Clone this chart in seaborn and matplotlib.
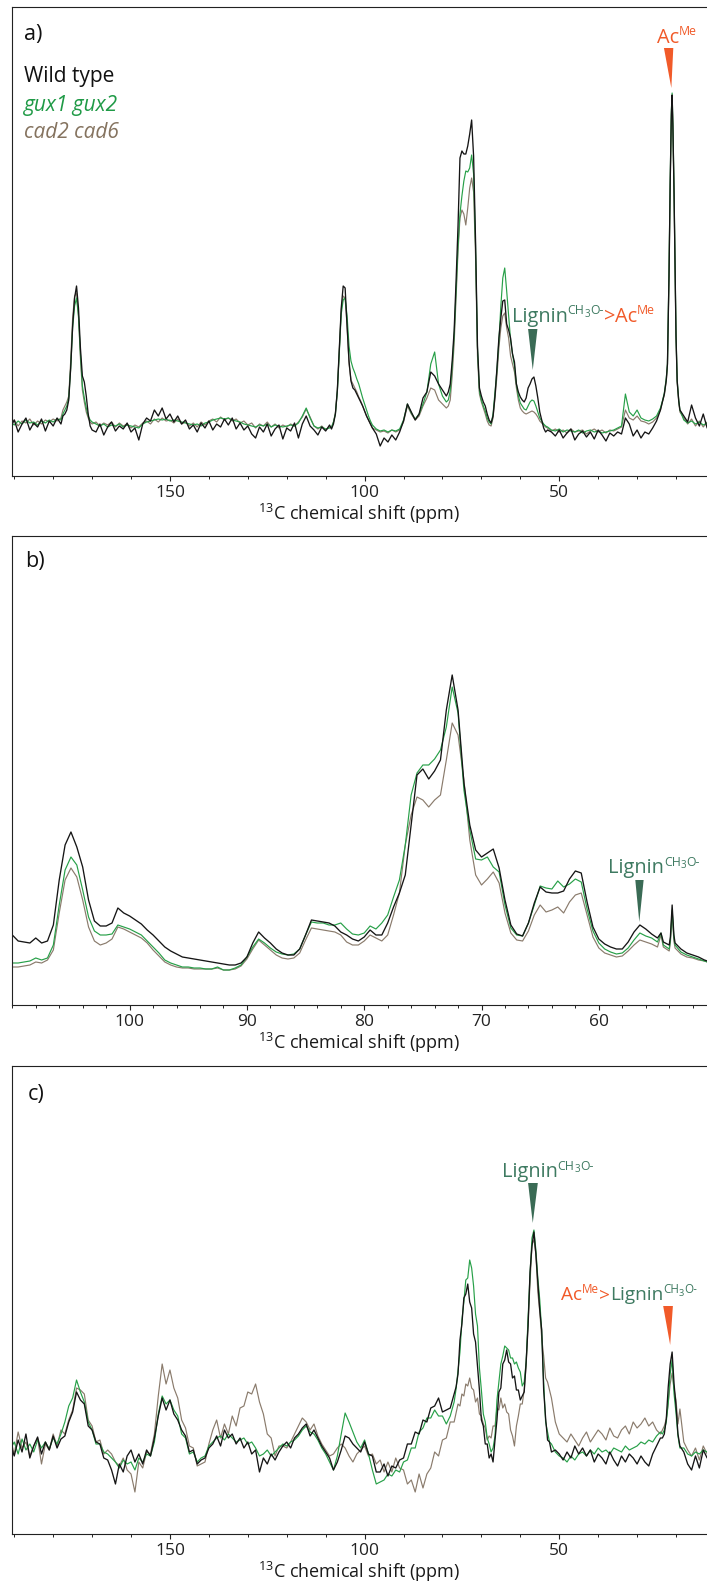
import numpy as np
import matplotlib
matplotlib.use("Agg")
import matplotlib.pyplot as plt
import seaborn as sns
from matplotlib.ticker import FixedLocator, MultipleLocator

sns.set_theme(style="white")
FONT = ["Open Sans", "DejaVu Sans"]
plt.rcParams["font.family"] = FONT
plt.rcParams["mathtext.fontset"] = "custom"
plt.rcParams["mathtext.rm"] = "Open Sans"
plt.rcParams["mathtext.it"] = "Open Sans:italic"


def seg(a, b, step):
    return [round(float(v), 2) for v in np.arange(a, b - step / 2, -step)]

# ---------------- data: panel a ----------------
ppm_a = (seg(191, 178, 1) + seg(177.5, 170, 0.5) + seg(169, 109, 1) + seg(108.5, 98, 0.5)
         + seg(97, 79, 1) + seg(78.5, 53, 0.5) + seg(52, 24, 1)
         + [23.5, 23, 22.5, 22.2, 21.8, 21.5, 21.2, 21.0, 20.8, 20.5, 20.2, 20.0, 19.7, 19.3, 19.0]
         + seg(18, 8, 1))
wt_a = ([48, 56, 44, 52, 58, 46, 53, 49, 57, 45, 55, 50, 58, 52]
        + [60, 62, 66, 76, 108, 150, 178, 190, 168, 128, 100, 94, 80, 62, 50, 46]
        + [44, 52, 41, 49, 54, 45, 50, 47, 53, 44, 48, 36, 52, 58, 55, 66, 60, 68, 57, 62,
           54, 60, 52, 56, 47, 51, 44, 53, 48, 55, 46, 52, 49, 57, 51, 58, 47, 53, 46, 50,
           42, 38, 49, 44, 52, 40, 47, 51, 37, 48, 45, 53, 38, 52, 60, 50, 46, 41, 49, 45, 51]
        + [47, 52, 62, 86, 126, 168, 190, 188, 150, 115, 95, 88, 86, 82, 78, 74, 70, 65, 60, 56, 52, 48]
        + [42, 30, 38, 34, 41, 36, 44, 55, 72, 64, 56, 62, 78, 84, 104, 100, 92, 86, 80]
        + [84, 92, 115, 145, 195, 250, 318, 325, 322, 322, 330, 342, 356, 320, 236, 130, 88, 80, 74, 70,
           62, 56, 53, 60, 80, 108, 138, 158, 175, 176, 152, 146, 138, 122, 114, 92, 84, 79, 76, 74,
           78, 88, 92, 97, 99, 90, 78, 64, 56, 48, 44, 46]
        + [44, 40, 46, 38, 43, 47, 36, 42, 45, 39, 44, 37, 46, 41, 35, 43, 40, 44, 42, 58,
           52, 40, 46, 38, 44, 42, 48, 55, 66]
        + [74, 82, 96, 112, 200, 292, 362, 381, 350, 282, 200, 140, 95, 75, 66]
        + [60, 54, 71, 58, 50, 62, 48, 56, 46, 54, 50])
gux_a = ([54, 51, 55, 52, 56, 53, 54, 51, 55, 53, 56, 54, 57, 56]
         + [62, 66, 70, 78, 108, 148, 170, 178, 160, 122, 90, 78, 68, 60, 56, 54]
         + [52, 50, 52, 49, 51, 50, 52, 49, 51, 50, 49, 48, 52, 54, 55, 56, 57, 56, 57, 55,
            56, 55, 54, 53, 52, 51, 52, 50, 53, 54, 56, 57, 58, 57, 58, 56, 55, 54, 52, 51,
            50, 49, 51, 50, 52, 49, 51, 50, 49, 50, 51, 50, 53, 60, 68, 58, 50, 48, 49, 47, 48]
         + [49, 54, 62, 84, 122, 162, 176, 178, 160, 130, 115, 108, 103, 97, 92, 85, 78, 72, 66, 60, 55, 51]
         + [47, 45, 46, 44, 46, 45, 47, 56, 72, 63, 57, 62, 72, 84, 112, 124, 92, 80, 74]
         + [76, 85, 110, 140, 185, 230, 262, 280, 295, 305, 304, 308, 321, 302, 230, 128, 85, 76, 70, 65,
            58, 54, 52, 62, 84, 106, 135, 170, 198, 208, 185, 160, 136, 122, 110, 92, 80, 73, 70, 67,
            66, 70, 74, 76, 75, 70, 64, 58, 55, 52, 50, 49]
         + [46, 45, 47, 44, 46, 45, 44, 46, 43, 45, 46, 44, 45, 43, 44, 45, 46, 48, 50, 82,
            64, 60, 66, 58, 56, 55, 57, 60, 68]
         + [75, 83, 98, 112, 205, 295, 365, 383, 352, 285, 202, 142, 96, 76, 66]
         + [56, 53, 55, 52, 54, 51, 53, 50, 52, 50, 51])
cad_a = ([52, 56, 50, 55, 53, 57, 51, 55, 52, 56, 54, 57, 55, 58]
         + [66, 70, 74, 80, 115, 158, 180, 183, 160, 118, 86, 74, 64, 58, 54, 52]
         + [54, 50, 53, 51, 54, 49, 53, 50, 52, 48, 51, 49, 53, 55, 52, 57, 54, 58, 55, 56,
            53, 57, 52, 54, 50, 53, 49, 54, 51, 55, 57, 54, 59, 56, 58, 55, 57, 53, 55, 51,
            53, 48, 52, 50, 54, 49, 52, 48, 51, 49, 52, 50, 54, 59, 67, 59, 50, 47, 50, 46, 49]
         + [48, 54, 63, 86, 125, 166, 180, 178, 150, 112, 96, 92, 88, 84, 79, 75, 70, 65, 60, 56, 52, 48]
         + [46, 44, 45, 43, 46, 44, 46, 54, 70, 62, 56, 60, 70, 78, 88, 86, 76, 72, 68]
         + [70, 76, 100, 132, 178, 225, 258, 266, 262, 251, 268, 288, 298, 284, 220, 120, 82, 74, 68, 62,
            55, 51, 50, 58, 78, 100, 128, 148, 160, 163, 148, 138, 120, 112, 104, 88, 76, 68, 65, 63,
            62, 63, 64, 65, 64, 62, 59, 55, 53, 51, 49, 48]
         + [45, 47, 44, 46, 43, 47, 44, 45, 46, 42, 45, 47, 44, 46, 43, 46, 45, 47, 49, 66,
            58, 56, 60, 55, 54, 52, 54, 58, 66]
         + [74, 81, 95, 110, 198, 288, 356, 376, 346, 278, 196, 138, 93, 74, 64]
         + [58, 52, 57, 50, 55, 49, 54, 51, 53, 48, 52])

# ---------------- data: panel b ----------------
ppm_b = seg(110, 55, 0.5) + [54.7, 54.5, 54, 53.9, 53.75, 53.6, 53.5, 53, 52.5, 52, 51.5, 51, 50.5, 50, 49.5]
wt_b = [70, 64, 63, 62, 67, 62, 64, 80, 125, 160,
        173, 158, 138, 105, 84, 79, 79, 82, 97, 92,
        89, 85, 81, 75, 70, 64, 58, 54, 51, 48,
        47, 46, 45, 44, 43, 42, 41, 40, 40, 42,
        48, 62, 73, 67, 62, 56, 52, 50, 50, 56,
        70, 85, 84, 83, 82, 79, 73, 70, 66, 64,
        68, 75, 70, 70, 82, 98, 112, 130, 180, 230,
        236, 226, 234, 245, 295, 330, 295, 222, 180, 155,
        148, 152, 156, 137, 105, 80, 71, 69, 82, 102,
        118, 113, 112, 112, 114, 126, 134, 132, 103, 78,
        66, 61, 58, 56, 56, 63, 73, 80, 76, 71,
        67] + [72, 63, 60, 68, 100, 70, 62, 56, 52, 50, 48, 45, 43, 42, 41]
gux_b = [42, 42, 43, 44, 47, 45, 47, 60, 100, 135,
         148, 140, 115, 88, 74, 70, 70, 71, 80, 78,
         76, 73, 70, 64, 58, 52, 45, 42, 40, 38,
         38, 37, 37, 36, 36, 38, 35, 35, 37, 40,
         48, 58, 66, 62, 57, 53, 51, 50, 51, 56,
         70, 83, 82, 82, 80, 80, 82, 76, 71, 70,
         72, 79, 76, 82, 90, 108, 125, 160, 210, 232,
         240, 240, 246, 255, 278, 318, 292, 215, 175, 146,
         145, 148, 138, 133, 100, 77, 70, 69, 82, 100,
         119, 117, 116, 124, 118, 121, 126, 123, 96, 74,
         62, 56, 53, 51, 52, 57, 65, 72, 69, 67,
         63] + [72, 60, 56, 65, 95, 67, 60, 53, 50, 48, 46, 44, 42, 41, 40]
cad_b = [38, 38, 39, 40, 43, 42, 45, 55, 92, 125,
         137, 128, 105, 78, 64, 60, 62, 66, 78, 76,
         73, 70, 67, 62, 55, 49, 43, 40, 38, 37,
         37, 36, 36, 36, 36, 37, 35, 35, 36, 39,
         46, 56, 65, 60, 55, 50, 47, 46, 47, 52,
         65, 77, 76, 75, 74, 73, 70, 63, 60, 60,
         64, 70, 67, 64, 70, 90, 112, 160, 190, 208,
         205, 198, 205, 210, 245, 282, 270, 225, 165, 130,
         120, 126, 133, 122, 92, 72, 65, 64, 74, 90,
         100, 93, 95, 98, 92, 103, 110, 112, 90, 68,
         57, 52, 50, 48, 49, 54, 60, 65, 63, 61,
         58] + [70, 58, 54, 62, 93, 64, 57, 51, 48, 47, 45, 44, 42, 40, 39]

# ---------------- data: panel c ----------------
ppm_c = (seg(191, 178, 1) + seg(177, 166, 1) + seg(165, 153, 1) + seg(152, 140, 1)
         + seg(139, 119, 1) + seg(118, 101, 1) + seg(100, 77, 1) + seg(76.5, 52, 0.5)
         + seg(51, 24, 1) + seg(23.5, 19, 0.5) + seg(18, 8, 1))
wt_c = ([90, 78, 94, 82, 100, 76, 88, 97, 80, 92, 84, 98, 86, 95]
        + [98, 112, 122, 142, 134, 130, 108, 104, 92, 90, 76, 74]
        + [64, 50, 70, 62, 78, 84, 72, 80, 70, 84, 78, 96, 118]
        + [136, 124, 134, 120, 114, 104, 98, 82, 84, 70, 74, 76, 86]
        + [90, 98, 88, 104, 96, 100, 90, 96, 86, 92, 80, 84, 62, 76, 70, 80, 74, 82, 88, 92, 86]
        + [96, 100, 106, 110, 98, 104, 96, 88, 82, 76, 64, 72, 84, 98, 96, 90, 86, 82]
        + [92, 80, 78, 62, 62, 70, 58, 68, 66, 74, 76, 90, 90, 102, 100, 114, 112, 126, 128, 136,
           122, 124, 126, 140]
        + [147, 160, 194, 210, 236, 240, 250, 232, 226, 200, 192, 168, 144, 114, 108, 90, 90, 76, 80, 72,
           94, 114, 142, 146, 170, 174, 184, 172, 170, 156, 158, 144, 144, 134, 138, 142, 172, 208, 262, 288,
           302, 280, 252, 224, 204, 144, 116, 94, 92, 82]
        + [84, 80, 74, 82, 76, 88, 80, 86, 78, 84, 72, 80, 76, 70, 82, 74, 68, 78, 72, 80,
           76, 70, 78, 72, 68, 80, 88, 96]
        + [96, 100, 115, 147, 170, 182, 150, 128, 100, 88]
        + [82, 70, 64, 78, 66, 84, 76, 80, 72, 78, 76])
gux_c = ([85, 92, 80, 95, 84, 90, 82, 94, 86, 92, 85, 96, 90, 100]
         + [112, 128, 136, 154, 142, 132, 112, 104, 90, 90, 82, 80]
         + [76, 72, 66, 74, 70, 72, 64, 76, 72, 80, 78, 92, 120]
         + [138, 130, 134, 124, 118, 100, 96, 80, 82, 72, 76, 78, 88]
         + [92, 96, 98, 94, 100, 96, 92, 94, 96, 90, 92, 86, 78, 80, 84, 78, 82, 86, 90, 88, 92]
         + [94, 98, 104, 108, 102, 100, 94, 86, 80, 72, 64, 78, 100, 121, 112, 102, 92, 86]
         + [94, 80, 64, 50, 52, 54, 60, 58, 64, 62, 72, 74, 86, 86, 102, 106, 116, 116, 124, 118,
            118, 110, 118, 132]
         + [145, 164, 182, 214, 232, 254, 256, 274, 266, 248, 220, 208, 166, 144, 120, 112, 96, 90, 82, 86,
            98, 134, 152, 170, 178, 188, 186, 184, 176, 176, 170, 172, 166, 162, 148, 152, 172, 216, 260, 296,
            304, 284, 256, 234, 202, 152, 112, 102, 92, 90]
         + [82, 78, 76, 72, 78, 74, 80, 82, 78, 84, 80, 86, 82, 84, 80, 86, 84, 82, 88, 84,
            86, 88, 92, 90, 94, 92, 98, 102]
         + [100, 104, 112, 131, 160, 174, 140, 121, 98, 86]
         + [86, 80, 78, 82, 80, 84, 82, 78, 80, 82, 80])
cad_c = ([95, 80, 102, 86, 92, 78, 88, 96, 70, 90, 84, 100, 88, 104]
         + [100, 114, 124, 146, 144, 140, 114, 108, 92, 94, 80, 84]
         + [80, 72, 68, 76, 64, 60, 42, 72, 66, 82, 80, 100, 138]
         + [170, 150, 164, 146, 136, 114, 106, 88, 86, 68, 70, 72, 90]
         + [104, 114, 96, 110, 100, 118, 108, 126, 128, 142, 140, 150, 132, 120, 100, 96, 78, 88, 88, 86, 92]
         + [100, 108, 116, 112, 104, 110, 98, 90, 84, 78, 80, 86, 90, 86, 78, 72, 80, 84]
         + [88, 78, 80, 70, 74, 62, 72, 62, 76, 66, 64, 50, 54, 42, 60, 46, 60, 66, 82, 78,
            94, 96, 112, 112]
         + [121, 130, 128, 140, 138, 150, 148, 156, 146, 144, 132, 136, 120, 118, 110, 106, 94, 98, 96, 108,
            108, 126, 124, 136, 126, 130, 122, 120, 104, 98, 88, 108, 118, 130, 130, 144, 168, 212, 252, 290,
            294, 280, 242, 222, 196, 178, 156, 152, 144, 136]
         + [112, 100, 96, 92, 100, 94, 88, 96, 102, 92, 98, 104, 100, 94, 106, 98, 96, 104, 108, 100,
            112, 106, 110, 116, 108, 112, 104, 100]
         + [104, 108, 115, 131, 150, 161, 145, 134, 110, 125]
         + [92, 84, 78, 86, 74, 88, 80, 84, 78, 82, 80])

for name, p, series in [("a", ppm_a, (wt_a, gux_a, cad_a)),
                        ("b", ppm_b, (wt_b, gux_b, cad_b)),
                        ("c", ppm_c, (wt_c, gux_c, cad_c))]:
    for s in series:
        assert len(s) == len(p), (name, len(s), len(p))

legend_labels = ["Wild type", "gux1 gux2", "cad2 cad6"]
panel_labels = ["a)", "b)", "c)"]
xlabel = r"$^{13}$C chemical shift (ppm)"

# ---------------- styling ----------------
BLACK = "#151515"
GREEN = "#27a048"
BROWN = "#8a7b6c"
ORANGE = "#f15a29"
LGREEN = "#3e7a61"
TGREEN = "#3a6b55"

W, H = 707, 1585
fig = plt.figure(figsize=(W / 100, H / 100), dpi=100)
fig.patch.set_facecolor("white")


def axes_at(top_px, bottom_px, left_px=12.3, right_px=720):
    return fig.add_axes([left_px / W, 1 - bottom_px / H, (right_px - left_px) / W,
                         (bottom_px - top_px) / H])


axA = axes_at(7, 476)
axB = axes_at(536, 1005)
axC = axes_at(1066, 1534)

panels = [(axA, ppm_a, wt_a, gux_a, cad_a, (190.5, 8.7), 469),
          (axB, ppm_b, wt_b, gux_b, cad_b, (110, 49.67), 469),
          (axC, ppm_c, wt_c, gux_c, cad_c, (190.5, 8.7), 468)]

for ax, p, wt, gx, cd, xl, ht in panels:
    sns.lineplot(x=p, y=cd, ax=ax, color=BROWN, lw=0.85, sort=False, estimator=None)
    sns.lineplot(x=p, y=gx, ax=ax, color=GREEN, lw=0.85, sort=False, estimator=None)
    sns.lineplot(x=p, y=wt, ax=ax, color=BLACK, lw=0.95, sort=False, estimator=None)
    ax.set_xlim(*xl)
    ax.set_ylim(0, ht)
    ax.set_yticks([])
    ax.set_ylabel("")
    for sp in ax.spines.values():
        sp.set_visible(True)
        sp.set_color("#222222")
        sp.set_linewidth(0.8)
    ax.tick_params(axis="x", which="major", direction="out", length=3.8, width=0.8,
                   pad=3, labelsize=12.5, colors="#222222", bottom=True)
    ax.tick_params(axis="x", which="minor", direction="out", length=2.2, width=0.7,
                   colors="#222222", bottom=True)
    ax.set_xlabel(xlabel, fontsize=13, labelpad=0, color="#1a1a1a")
    ax.xaxis.label.set_x(0.49)
    ax.set_facecolor("white")

for ax in (axA, axC):
    ax.xaxis.set_major_locator(FixedLocator([150, 100, 50]))
    ax.xaxis.set_minor_locator(MultipleLocator(10))
axB.xaxis.set_major_locator(FixedLocator([100, 90, 80, 70, 60]))
axB.xaxis.set_minor_locator(MultipleLocator(2))

# arrowheads (data coordinates of the pointers)
def tri(ax, x_left, x_right, x_tip, y_top, y_tip, color):
    ax.fill([x_left, x_right, x_tip], [y_top, y_top, y_tip], color=color, lw=0, zorder=5)

tri(axA, 23.1, 20.7, 21.2, 428, 388, ORANGE)
tri(axA, 58.0, 55.6, 56.8, 147, 106, TGREEN)
tri(axB, 56.89, 56.18, 56.55, 125, 83, TGREEN)
tri(axC, 58.0, 55.5, 56.8, 351, 311, TGREEN)
tri(axC, 23.3, 20.8, 21.5, 228, 189, ORANGE)

# ---------------- texts ----------------
renderer = fig.canvas.get_renderer()


def ftext(x, y, s, **kw):
    kw.setdefault("family", FONT)
    return fig.text(x / W, 1 - y / H, s, ha="left", va="baseline", **kw)


def rich(x, y, parts, scale=1.0):
    for s, color, size, dy in parts:
        t = ftext(x, y - dy * scale, s, color=color, fontsize=size * scale)
        x += t.get_window_extent(renderer).width


MAIN = 14.4
SUP = 8.8
SUB = 7.0
lignin_parts = [("Lignin", LGREEN, MAIN, 0), ("CH", LGREEN, SUP, 7.2),
                ("3", LGREEN, SUB, 4.6), ("O-", LGREEN, SUP, 7.2)]
acme_parts = [("Ac", ORANGE, MAIN, 0), ("Me", ORANGE, SUP, 7.6)]

rich(656.7, 42.7, acme_parts)
rich(511.7, 321.7, lignin_parts + [(">", ORANGE, MAIN, 0)] + acme_parts)
rich(608, 873, lignin_parts)
rich(501.7, 1176.7, lignin_parts)
rich(561, 1300, acme_parts + [(">", ORANGE, MAIN, 0)] + lignin_parts, scale=0.95)

ftext(24, 40, panel_labels[0], fontsize=15.5, color="#111111")
ftext(25, 566.7, panel_labels[1], fontsize=15.5, color="#111111")
ftext(28, 1100, panel_labels[2], fontsize=15.5, color="#111111")

ftext(24, 82, legend_labels[0], fontsize=15, color="#111111")
ftext(24, 111.5, legend_labels[1], fontsize=15, color="#1f9a46", style="italic")
ftext(24, 138.5, legend_labels[2], fontsize=15, color="#85735f", style="italic")

fig.savefig("out.png", dpi=100, facecolor="white")
